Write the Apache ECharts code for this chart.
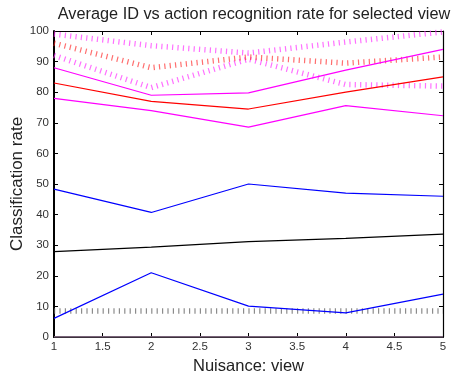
<!DOCTYPE html>
<html>
<head>
<meta charset="utf-8">
<script src="https://cdn.jsdelivr.net/npm/echarts@6/dist/echarts.min.js"></script>
<style>html,body{margin:0;padding:0;background:#fff}#c{width:451px;height:377px}</style>
</head>
<body>
<div id="c"></div>
<script>
const views = [1, 2, 3, 4, 5];
const redSolid = [83, 77, 74.5, 80, 85];
const redDotted = [96, 88, 91.5, 89.5, 91.5];
const magentaSolidUpper = [88, 79, 79.8, 87.2, 94];
const magentaSolidLower = [78, 74, 68.6, 75.6, 72.3];
const magentaDottedUpper = [99, 95.2, 92.8, 96.4, 99.7];
const magentaDottedLower = [92, 81.5, 90.8, 82.5, 82];
const blueUpper = [48.3, 40.7, 50, 47, 46];
const blueLower = [6.1, 21, 10.1, 7.9, 14];
const blackSolid = [27.9, 29.4, 31.2, 32.2, 33.6];
const blackDotted = [8.5, 8.5, 8.5, 8.5, 8.5];
const pinkZero = [0, 0, 0, 0, 0];

const title = 'Average ID vs action recognition rate for selected view';
const xName = 'Nuisance: view';
const yName = 'Classification rate';

function pts(arr) { return views.map((v, i) => [v, arr[i]]); }
function solid(arr, color, w) {
  return { type: 'line', data: pts(arr), symbol: 'none', silent: true, animation: false,
    lineStyle: { color: color, width: w || 1.2 } };
}
function dotted(arr, color, op) {
  return { type: 'line', data: pts(arr), symbol: 'none', silent: true, animation: false,
    lineStyle: { color: color, width: 5.5, type: [1.2, 4.2], cap: 'butt', opacity: op } };
}

const font = 'Liberation Sans, Arial, Helvetica, sans-serif';
const chart = echarts.init(document.getElementById('c'), null, { renderer: 'canvas' });
chart.setOption({
  backgroundColor: '#fff',
  animation: false,
  title: { text: title, left: 249, top: 2, textAlign: 'center',
    textStyle: { fontFamily: font, fontSize: 16.3, fontWeight: 'normal', color: '#222' } },
  grid: { left: 54, right: 8, top: 31, bottom: 40, containLabel: false, outerBoundsMode: 'none' },
  xAxis: [{
    type: 'value', min: 1, max: 5, interval: 0.5,
    name: xName, nameLocation: 'middle', nameGap: 21, nameMoveOverlap: false,
    nameTextStyle: { fontFamily: font, fontSize: 16.5, color: '#222' },
    axisLine: { show: true, onZero: false, lineStyle: { color: '#000', width: 2 } },
    axisTick: { show: true, inside: true, length: 4, lineStyle: { color: '#000' } },
    axisLabel: { margin: 4, fontFamily: font, fontSize: 11.5, color: '#333' },
    splitLine: { show: false }
  }, {
    type: 'value', min: 1, max: 5, interval: 0.5, position: 'top',
    axisLine: { show: true, onZero: false, lineStyle: { color: '#000', width: 1.2 } },
    axisTick: { show: true, inside: true, length: 4, lineStyle: { color: '#000' } },
    axisLabel: { show: false }, splitLine: { show: false }
  }],
  yAxis: [{
    type: 'value', min: 0, max: 100, interval: 10,
    name: yName, nameLocation: 'middle', nameGap: 28, nameMoveOverlap: false,
    nameTextStyle: { fontFamily: font, fontSize: 17, color: '#222' },
    axisLine: { show: true, onZero: false, lineStyle: { color: '#000', width: 2 } },
    axisTick: { show: true, inside: true, length: 4, lineStyle: { color: '#000' } },
    axisLabel: { margin: 5, fontFamily: font, fontSize: 11.5, color: '#333' },
    splitLine: { show: false }
  }, {
    type: 'value', min: 0, max: 100, interval: 10, position: 'right',
    axisLine: { show: true, onZero: false, lineStyle: { color: '#000', width: 1.2 } },
    axisTick: { show: true, inside: true, length: 4, lineStyle: { color: '#000' } },
    axisLabel: { show: false }, splitLine: { show: false }
  }],
  series: [
    solid(pinkZero, '#f3c8f3', 1),
    dotted(blackDotted, '#666', 0.75),
    dotted(magentaDottedUpper, '#ff33ff', 0.7),
    dotted(magentaDottedLower, '#ff33ff', 0.7),
    dotted(redDotted, '#ff2020', 0.65),
    solid(redSolid, '#ff0000'),
    solid(magentaSolidUpper, '#ff00ff'),
    solid(magentaSolidLower, '#ff00ff'),
    solid(blueUpper, '#0000ff'),
    solid(blueLower, '#0000ff'),
    solid(blackSolid, '#000000')
  ]
});
</script>
</body>
</html>
